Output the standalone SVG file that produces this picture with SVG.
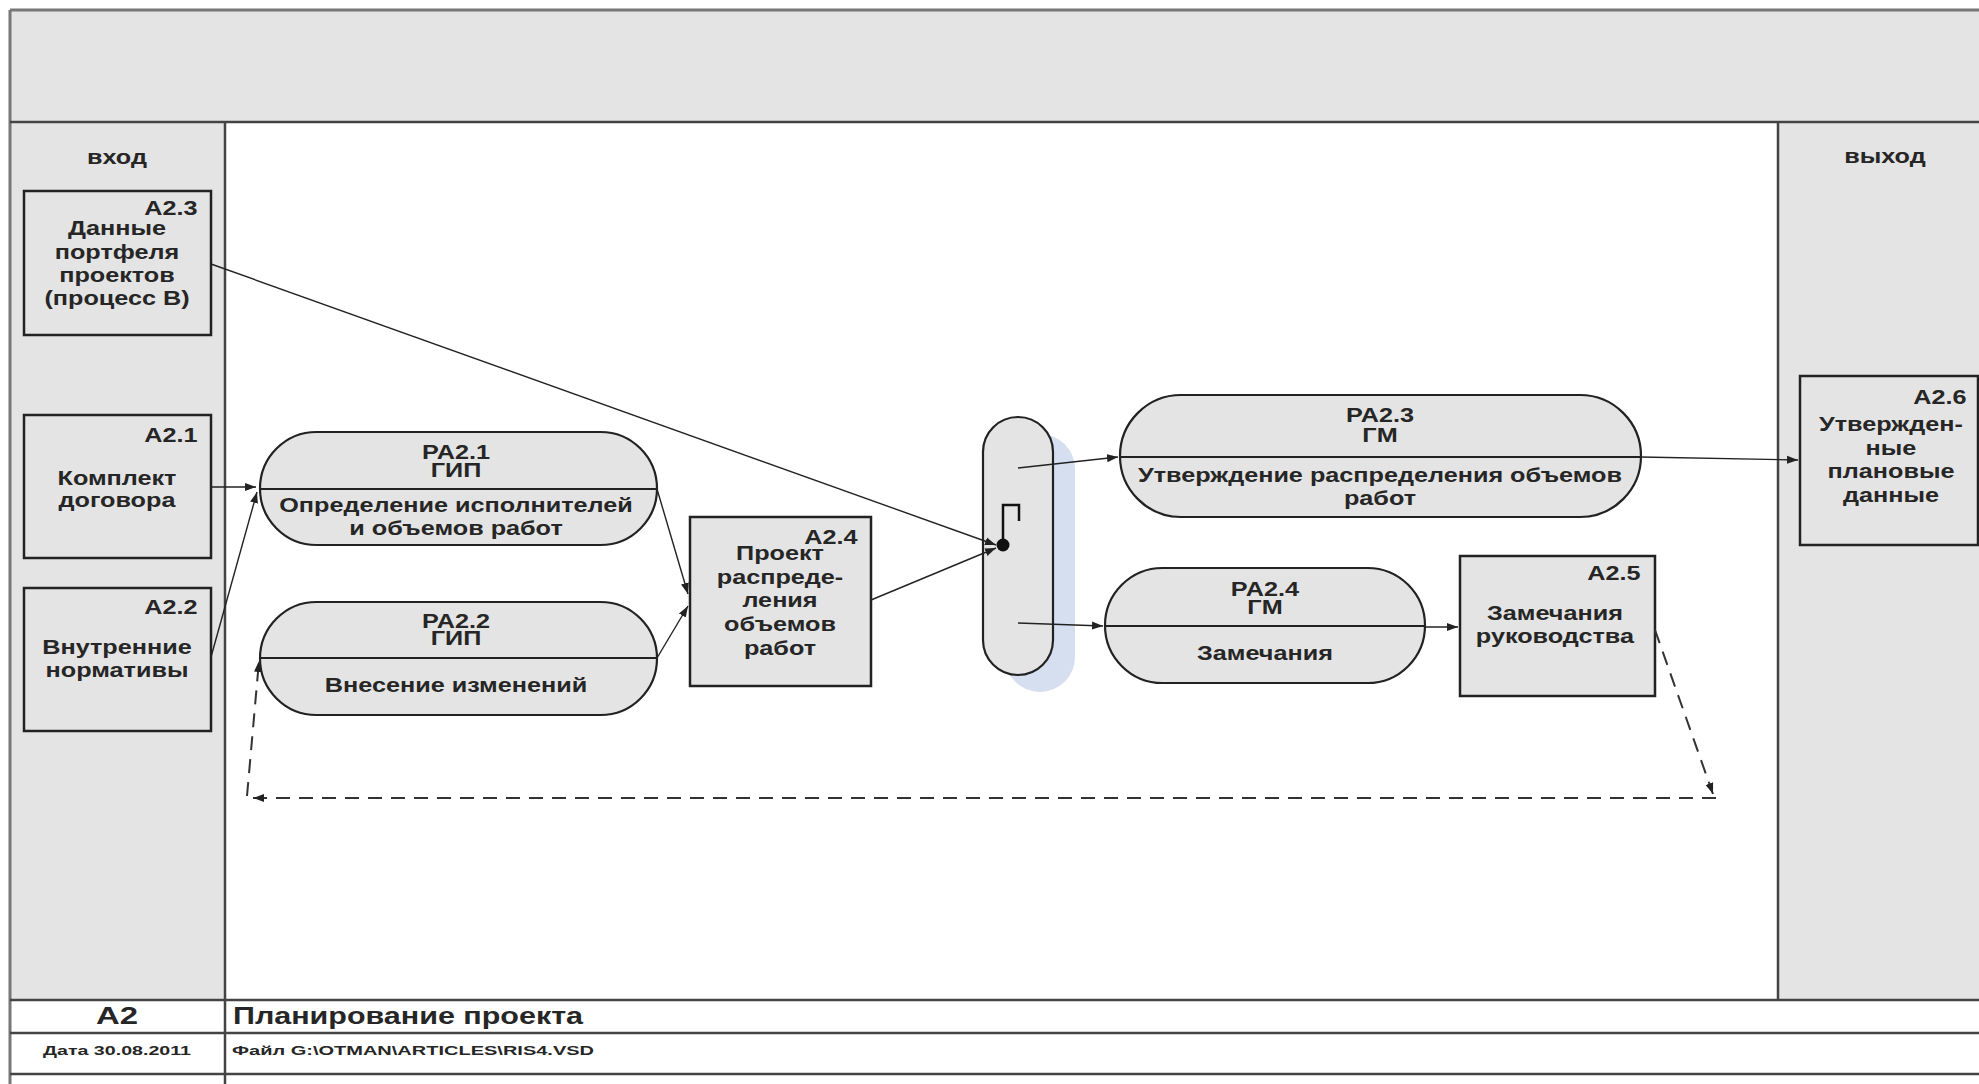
<svg xmlns="http://www.w3.org/2000/svg" width="1979" height="1084" viewBox="0 0 1979 1084">
<style>
.t{font-family:"Liberation Sans",Arial,sans-serif;font-weight:bold;font-size:20.5px;fill:#262626;text-anchor:middle;transform-box:fill-box;transform-origin:center;transform:scaleX(1.23)}
.s{font-family:"Liberation Sans",Arial,sans-serif;font-weight:bold;fill:#262626}
.box{fill:#e4e4e4;stroke:#222;stroke-width:2.5}
.proc{fill:#e4e4e4;stroke:#222;stroke-width:2.2}
.div{stroke:#222;stroke-width:2}
.c{fill:none;stroke:#222;stroke-width:1.4}
.d{fill:none;stroke:#333;stroke-width:2;stroke-dasharray:14 9}
.frame{stroke:#444;stroke-width:2.5}
</style>
<defs>
<marker id="ah" markerWidth="12" markerHeight="10" refX="11" refY="5" orient="auto" markerUnits="userSpaceOnUse"><path d="M0,1 L11,5 L0,9 z" fill="#222"/></marker>
</defs>
<g id="frame">
<rect x="10" y="10" width="1975" height="1080" fill="#e4e4e4"/>
<rect x="225" y="122" width="1553" height="878" fill="#ffffff"/>
<rect x="10" y="1000" width="1975" height="90" fill="#ffffff"/>
<line x1="10" y1="10" x2="1979" y2="10" stroke="#777" stroke-width="3"/>
<line x1="10" y1="10" x2="10" y2="1084" stroke="#777" stroke-width="3"/>
<line class="frame" x1="10" y1="122" x2="1979" y2="122"/>
<line class="frame" x1="225" y1="122" x2="225" y2="1084"/>
<line class="frame" x1="1778" y1="122" x2="1778" y2="1000"/>
<line class="frame" x1="10" y1="1000" x2="1979" y2="1000"/>
<line class="frame" x1="10" y1="1033" x2="1979" y2="1033"/>
<line class="frame" x1="10" y1="1074" x2="1979" y2="1074"/>
<text class="t" x="117" y="164">вход</text>
<text class="t" x="1885" y="163">выход</text>
<text class="s" x="117" y="1024" font-size="24" text-anchor="middle" textLength="42" lengthAdjust="spacingAndGlyphs">A2</text>
<text class="s" x="233" y="1024" font-size="24" textLength="350" lengthAdjust="spacingAndGlyphs">Планирование проекта</text>
<text class="s" x="117" y="1055" font-size="12.5" text-anchor="middle" textLength="148" lengthAdjust="spacingAndGlyphs">Дата 30.08.2011</text>
<text class="s" x="232" y="1055" font-size="12.5" textLength="362" lengthAdjust="spacingAndGlyphs">Файл G:\OTMAN\ARTICLES\RIS4.VSD</text>
</g>
<g id="A2.3">
<rect class="box" x="24" y="191" width="187" height="144"/>
<text class="t" x="171" y="215">A2.3</text>
<text class="t" x="117" y="235">Данные</text>
<text class="t" x="117" y="259">портфеля</text>
<text class="t" x="117" y="282">проектов</text>
<text class="t" x="117" y="305">(процесс B)</text>
</g>
<g id="A2.1">
<rect class="box" x="24" y="415" width="187" height="143"/>
<text class="t" x="171" y="442">A2.1</text>
<text class="t" x="117" y="485">Комплект</text>
<text class="t" x="117" y="507">договора</text>
</g>
<g id="A2.2">
<rect class="box" x="24" y="588" width="187" height="143"/>
<text class="t" x="171" y="614">A2.2</text>
<text class="t" x="117" y="654">Внутренние</text>
<text class="t" x="117" y="677">нормативы</text>
</g>
<g id="PA2.1">
<rect class="proc" x="260" y="432" width="397" height="113" rx="56.5"/>
<line class="div" x1="260" y1="489" x2="657" y2="489"/>
<text class="t" x="456" y="459">PA2.1</text>
<text class="t" x="456" y="477">ГИП</text>
<text class="t" x="456" y="512">Определение исполнителей</text>
<text class="t" x="456" y="535">и объемов работ</text>
</g>
<g id="PA2.2">
<rect class="proc" x="260" y="602" width="397" height="113" rx="56.5"/>
<line class="div" x1="260" y1="658" x2="657" y2="658"/>
<text class="t" x="456" y="628">PA2.2</text>
<text class="t" x="456" y="645">ГИП</text>
<text class="t" x="456" y="692">Внесение изменений</text>
</g>
<g id="A2.4">
<rect class="box" x="690" y="517" width="181" height="169"/>
<text class="t" x="831" y="544">A2.4</text>
<text class="t" x="780" y="560">Проект</text>
<text class="t" x="780" y="584">распреде-</text>
<text class="t" x="780" y="607">ления</text>
<text class="t" x="780" y="631">объемов</text>
<text class="t" x="780" y="655">работ</text>
</g>
<g id="junction">
<rect x="1005" y="434" width="70" height="258" rx="35" fill="#d6dff0"/>
<rect class="proc" x="983" y="417" width="70" height="258" rx="35"/>
<path d="M1003,545 V505 H1019 V521" fill="none" stroke="#111" stroke-width="2.5"/>
<circle cx="1003" cy="545" r="6.5" fill="#111"/>
</g>
<g id="PA2.3">
<rect class="proc" x="1120" y="395" width="521" height="122" rx="61"/>
<line class="div" x1="1120" y1="457" x2="1641" y2="457"/>
<text class="t" x="1380" y="422">PA2.3</text>
<text class="t" x="1380" y="442">ГМ</text>
<text class="t" x="1380" y="482">Утверждение распределения объемов</text>
<text class="t" x="1380" y="505">работ</text>
</g>
<g id="PA2.4">
<rect class="proc" x="1105" y="568" width="320" height="115" rx="57.5"/>
<line class="div" x1="1105" y1="626" x2="1425" y2="626"/>
<text class="t" x="1265" y="596">PA2.4</text>
<text class="t" x="1265" y="614">ГМ</text>
<text class="t" x="1265" y="660">Замечания</text>
</g>
<g id="A2.5">
<rect class="box" x="1460" y="556" width="195" height="140"/>
<text class="t" x="1614" y="580">A2.5</text>
<text class="t" x="1555" y="620">Замечания</text>
<text class="t" x="1555" y="643">руководства</text>
</g>
<g id="A2.6">
<rect class="box" x="1800" y="376" width="178" height="169"/>
<text class="t" x="1940" y="404">A2.6</text>
<text class="t" x="1891" y="431">Утвержден-</text>
<text class="t" x="1891" y="455">ные</text>
<text class="t" x="1891" y="478">плановые</text>
<text class="t" x="1891" y="502">данные</text>
</g>
<g id="connectors">
<path class="c" d="M211,487 L256,487" marker-end="url(#ah)"/>
<path class="c" d="M211,657 L257,492" marker-end="url(#ah)"/>
<path class="c" d="M657,489 L688,594" marker-end="url(#ah)"/>
<path class="c" d="M657,658 L688,606" marker-end="url(#ah)"/>
<path class="c" d="M211,264 L996,545" marker-end="url(#ah)"/>
<path class="c" d="M871,600 L996,548" marker-end="url(#ah)"/>
<path class="c" d="M1018,468 L1118,457" marker-end="url(#ah)"/>
<path class="c" d="M1018,623 L1103,626" marker-end="url(#ah)"/>
<path class="c" d="M1641,457 L1798,460" marker-end="url(#ah)"/>
<path class="c" d="M1425,627 L1458,627" marker-end="url(#ah)"/>
<path class="d" d="M1655,630 L1713,794" marker-end="url(#ah)"/>
<path class="d" d="M1716,798 L253,798" marker-end="url(#ah)"/>
<path class="d" d="M247,796 L259,661" marker-end="url(#ah)"/>
</g>
</svg>
